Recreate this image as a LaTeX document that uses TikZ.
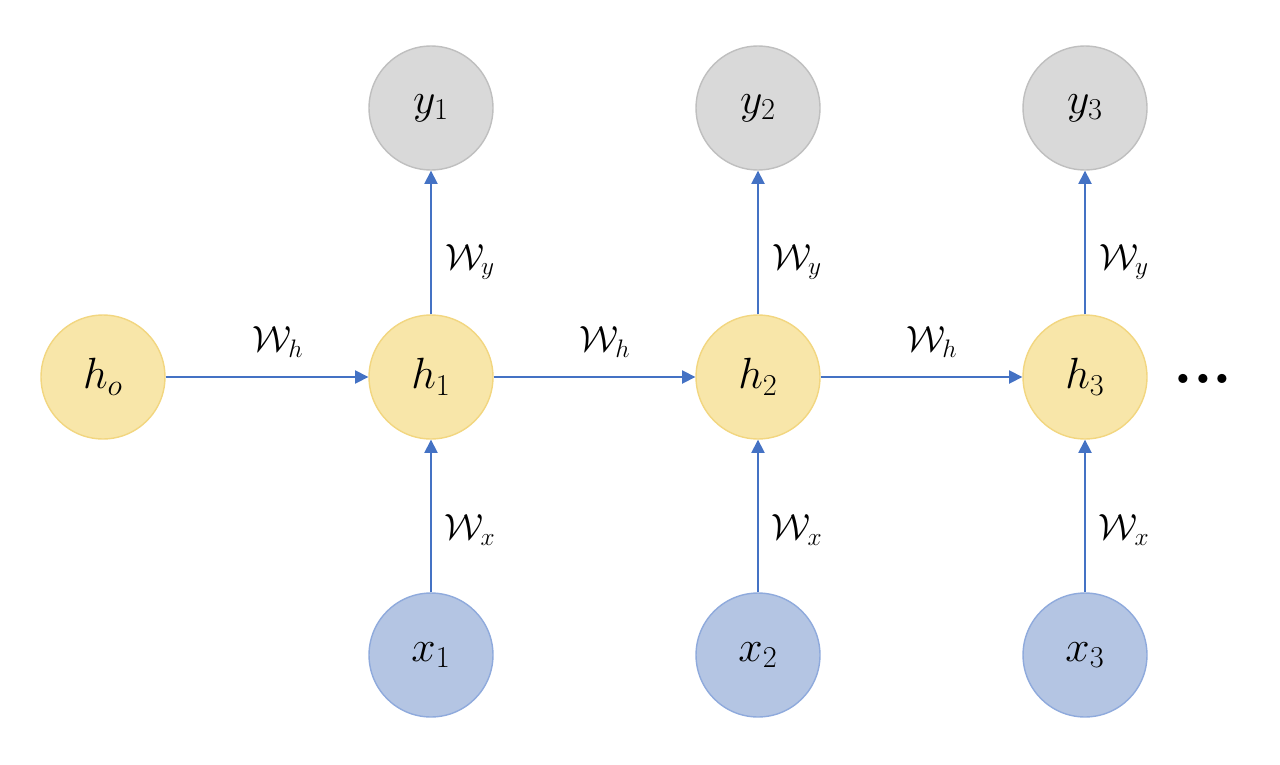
\documentclass[tikz,border=0pt]{standalone}
\usepackage{amsmath}
\usepackage{tikz}
\usetikzlibrary{arrows.meta}
\usepackage{xcolor}

\definecolor{hfill}{HTML}{F8E6A9}
\definecolor{hdraw}{HTML}{F2D680}
\definecolor{yfill}{HTML}{D9D9D9}
\definecolor{ydraw}{HTML}{BFBFBF}
\definecolor{xfill}{HTML}{B4C5E3}
\definecolor{xdraw}{HTML}{8FAADC}
\definecolor{wire}{HTML}{4472C4}

\tikzset{
  unit/.style={circle, minimum size=2.48cm, inner sep=0pt, line width=0.8pt, font=\fontsize{24}{28}\selectfont},
  hid/.style={unit, fill=hfill, draw=hdraw},
  outp/.style={unit, fill=yfill, draw=ydraw},
  inp/.style={unit, fill=xfill, draw=xdraw},
  wt/.style={font=\fontsize{22}{26}\selectfont},
  link/.style={wire, line width=0.9pt, -{Triangle[width=7.5pt,length=7.5pt]}}
}

\begin{document}
\begin{tikzpicture}[x=0.02cm, y=-0.02cm]
\useasboundingbox (0,0) rectangle (1280,764);
% Hidden states
\node[hid] (h0) at (103,377) {$h_o$};
\node[hid] (h1) at (431,377) {$h_1$};
\node[hid] (h2) at (758,377) {$h_2$};
\node[hid] (h3) at (1085,377) {$h_3$};
% Outputs
\node[outp] (y1) at (431,108) {$y_1$};
\node[outp] (y2) at (758,108) {$y_2$};
\node[outp] (y3) at (1085,108) {$y_3$};
% Inputs
\node[inp] (x1) at (431,655) {$x_1$};
\node[inp] (x2) at (758,655) {$x_2$};
\node[inp] (x3) at (1085,655) {$x_3$};
% Recurrence
\draw[link] (h0) -- (h1);
\draw[link] (h1) -- (h2);
\draw[link] (h2) -- (h3);
\node[wt] (wh1) at (278,342) {$\mathcal{W}_h$};
\node[wt] (wh2) at (605,342) {$\mathcal{W}_h$};
\node[wt] (wh3) at (932,342) {$\mathcal{W}_h$};
% Hidden to output
\draw[link] (h1) -- (y1);
\draw[link] (h2) -- (y2);
\draw[link] (h3) -- (y3);
\node[wt] (wy1) at (470,262) {$\mathcal{W}_y$};
\node[wt] (wy2) at (797,262) {$\mathcal{W}_y$};
\node[wt] (wy3) at (1124,262) {$\mathcal{W}_y$};
% Input to hidden
\draw[link] (x1) -- (h1);
\draw[link] (x2) -- (h2);
\draw[link] (x3) -- (h3);
\node[wt] (wx1) at (470,530) {$\mathcal{W}_x$};
\node[wt] (wx2) at (797,530) {$\mathcal{W}_x$};
\node[wt] (wx3) at (1124,530) {$\mathcal{W}_x$};
% Continuation
\node[font=\fontsize{36}{40}\selectfont\bfseries, anchor=base] (more) at (1203,383) {...};
\end{tikzpicture}
\end{document}
